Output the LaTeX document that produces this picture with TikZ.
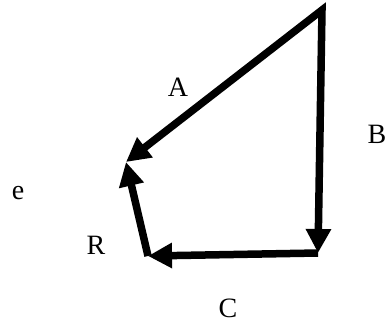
\documentclass[tikz,border=0pt]{standalone}
\usepackage{fontspec}
\setmainfont{Liberation Serif}
\usepackage{tikz}
\usetikzlibrary{arrows.meta}

\begin{document}
\begin{tikzpicture}[
  x=1pt, y=-1pt,
  font=\fontsize{28}{32}\selectfont,
  vec/.style={line width=7.5pt, black, -{Triangle[length=24pt, width=24pt]}},
  letra/.style={inner sep=0pt}
]
  \useasboundingbox (0,0) rectangle (390,325);
  \coordinate (top) at (322,10);
  \coordinate (bend) at (318,253);
  \coordinate (foot) at (148,256);
  \coordinate (head) at (126,162);
  % A y B desde el vertice de arriba
  \draw[vec, {Triangle[length=24pt, width=24pt]}-{Triangle[length=24pt, width=24pt]}] (head) -- (top) -- (bend);
  \draw[vec] (bend) -- (foot);
  \draw[vec] (foot) -- (head);
  \node[letra] (la) at (178,87) {A};
  \node[letra] (lb) at (377,134) {B};
  \node[letra] (lc) at (228,308) {C};
  \node[letra] (lr) at (96,245) {R};
  \node[letra] (le) at (18,193) {e};
\end{tikzpicture}
\end{document}
